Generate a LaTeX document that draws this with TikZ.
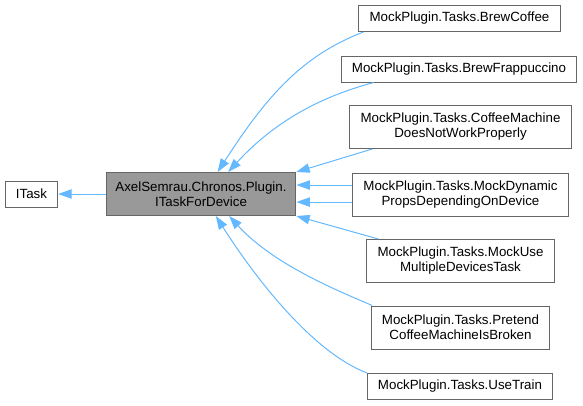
\documentclass[tikz,border=0pt]{standalone}
\usepackage{fontspec}
\setmainfont{Liberation Sans}
\usetikzlibrary{arrows.meta,calc,positioning}
\definecolor{edgeblue}{HTML}{63B8FF}
\definecolor{boxgray}{HTML}{666666}
\definecolor{basefill}{HTML}{999999}
\tikzset{
  klass/.style={draw=boxgray, line width=0.75pt, fill=white, align=center, inner xsep=8pt, inner ysep=0pt, minimum height=19.5pt, font=\fontsize{10}{11.25}\selectfont},
  twoline/.style={minimum height=32.25pt},
  current/.style={klass, twoline, fill=basefill, inner xsep=7pt},
  inherit/.style={-{Triangle[length=10pt,width=7pt]}, line width=0.75pt, edgeblue}
}

\begin{document}
\begin{tikzpicture}[x=0.75pt,y=-0.75pt]
  \useasboundingbox (0,0) rectangle (583,405);
  \node[klass] (itask) at (31.5,194) {ITask};
  \node[current] (dev) at (201,194) {AxelSemrau.Chronos.Plugin.\\ITaskForDevice};
  \node[klass] (bc) at (459.5,18.5) {MockPlugin.Tasks.BrewCoffee};
  \node[klass] (bf) at (459,69) {MockPlugin.Tasks.BrewFrappuccino};
  \node[klass,twoline] (cm) at (460.5,127) {MockPlugin.Tasks.CoffeeMachine\\DoesNotWorkProperly};
  \node[klass,twoline] (md) at (460.5,194.5) {MockPlugin.Tasks.MockDynamic\\PropsDependingOnDevice};
  \node[klass,twoline] (mu) at (460.5,261) {MockPlugin.Tasks.MockUse\\MultipleDevicesTask};
  \node[klass,twoline] (pr) at (460.5,327.5) {MockPlugin.Tasks.Pretend\\CoffeeMachineIsBroken};
  \node[klass] (ut) at (460,386) {MockPlugin.Tasks.UseTrain};
  % inheritance edges point at the base
  \draw[inherit] (dev.west) -- (itask.east);
  \draw[inherit] (bc.188.6) .. controls +(-61,23.4) and +(49.5,-76.5) .. (dev.53);
  \draw[inherit] (bf.189) .. controls +(-37,10) and +(55,-60) .. (dev.39);
  \draw[inherit] (cm.194) -- (dev.13);
  \foreach \a in {175.5,184.5}{\draw[inherit] (md.\a) -- (md.\a -| dev.east);}
  \draw[inherit] (mu.165.6) -- (dev.-13);
  \draw[inherit] (pr.166.5) .. controls +(-30,-13) and +(45,49.5) .. (dev.-38);
  \draw[inherit] (ut.172) .. controls +(-52.5,-20) and +(42,66) .. (dev.-56);
\end{tikzpicture}
\end{document}
